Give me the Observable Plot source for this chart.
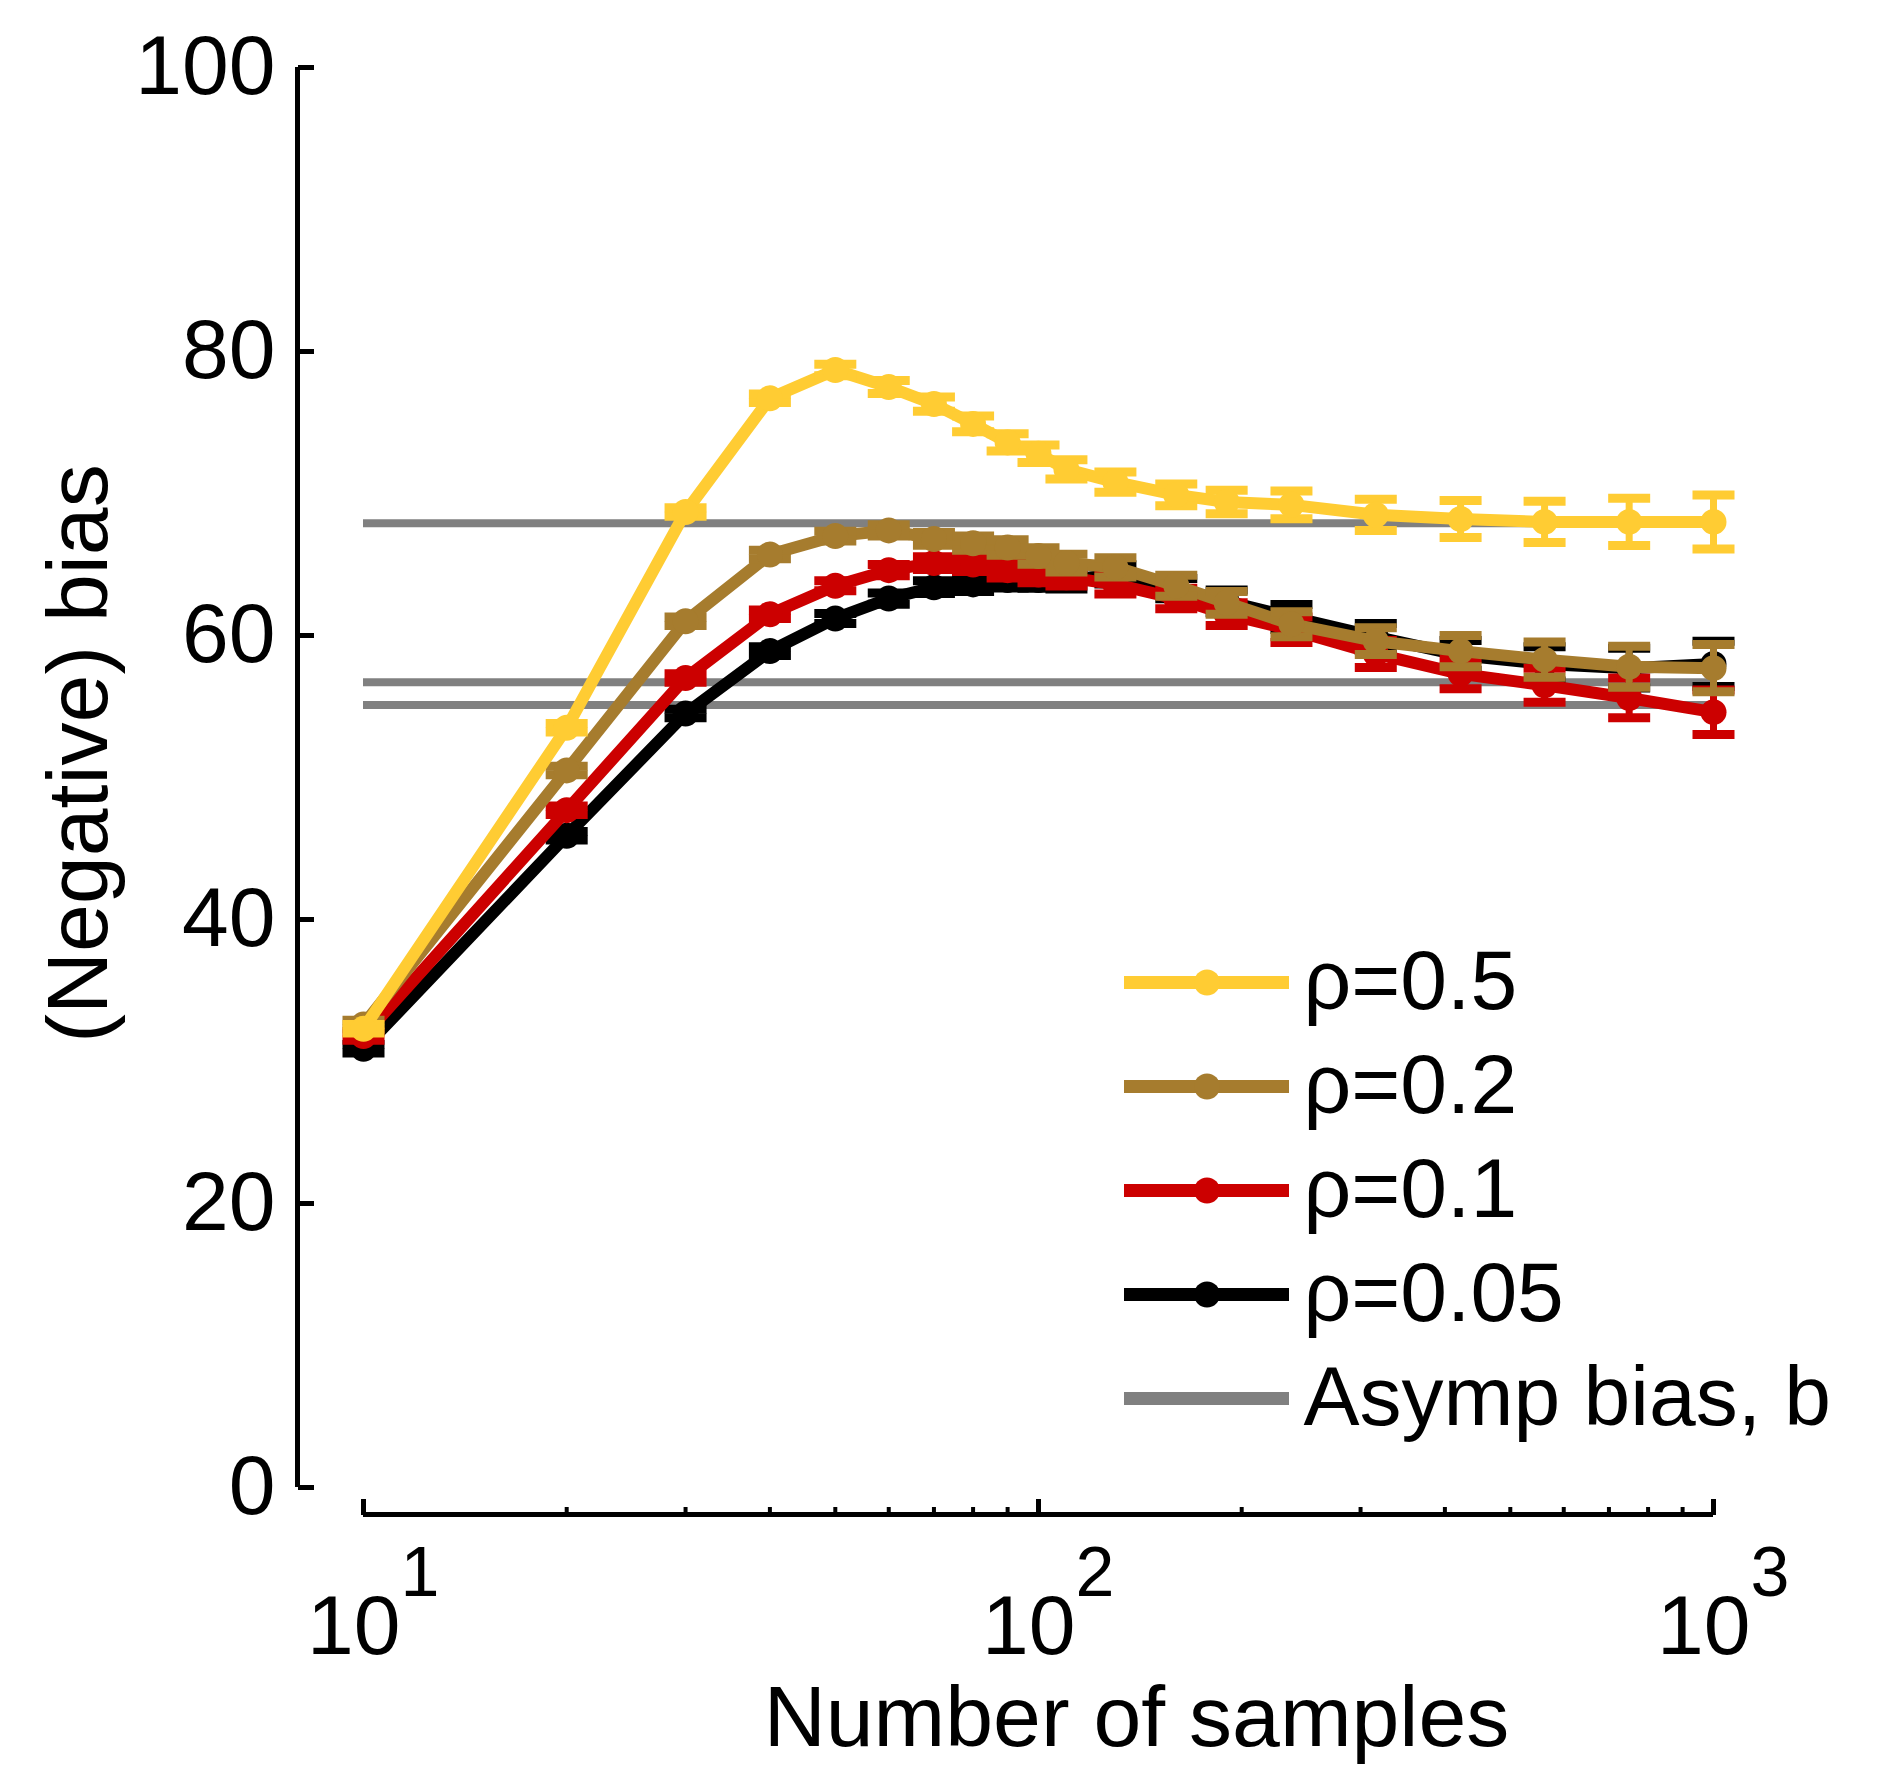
<!DOCTYPE html>
<html>
<head>
<meta charset="utf-8">
<script src="https://cdn.jsdelivr.net/npm/d3@7"></script>
<script src="https://cdn.jsdelivr.net/npm/@observablehq/plot@0.6"></script>
<style>
  html, body { margin: 0; padding: 0; background: white; }
  #wrap { position: relative; width: 1882px; height: 1790px; font-family: "Liberation Sans", Arial, sans-serif; }
  #legend { position: absolute; left: 1100px; top: 900px; }
</style>
</head>
<body>
<div id="wrap"><div id="main"></div><div id="legend"></div></div>
<script>
// ---- data ----
const samples = [10, 20, 30, 40, 50, 60, 70, 80, 90, 100, 110, 130, 160, 190, 237, 316, 422, 562, 750, 1000];

const rho05 = [32.3, 53.5, 68.7, 76.7, 78.7, 77.5, 76.3, 74.9, 73.6, 72.8, 71.7, 70.8, 69.9, 69.4, 69.2, 68.5, 68.2, 68.0, 68.0, 68.0];
const rho05Err = [0.3, 0.3, 0.3, 0.3, 0.4, 0.45, 0.5, 0.55, 0.6, 0.62, 0.68, 0.72, 0.77, 0.83, 0.97, 1.1, 1.3, 1.45, 1.67, 1.9];

const rho02 = [32.6, 50.5, 61.0, 65.7, 67.0, 67.4, 66.8, 66.5, 66.2, 65.6, 65.1, 64.8, 63.5, 62.3, 60.8, 59.6, 58.9, 58.3, 57.8, 57.7];
const rho02Err = [0.3, 0.3, 0.3, 0.3, 0.35, 0.4, 0.45, 0.5, 0.55, 0.58, 0.62, 0.68, 0.74, 0.8, 0.88, 0.94, 1.1, 1.24, 1.44, 1.67];

const rho01 = [31.8, 47.7, 57.0, 61.5, 63.5, 64.6, 65.1, 65.0, 64.6, 64.3, 64.1, 63.6, 62.6, 61.5, 60.4, 58.7, 57.3, 56.5, 55.6, 54.6];
const rho01Err = [0.3, 0.3, 0.3, 0.3, 0.35, 0.4, 0.45, 0.5, 0.55, 0.58, 0.62, 0.68, 0.72, 0.8, 0.9, 0.95, 1.05, 1.2, 1.4, 1.57];

const rho005 = [30.9, 45.9, 54.5, 58.9, 61.2, 62.6, 63.4, 63.6, 63.9, 63.9, 63.9, 64.3, 63.3, 62.4, 61.3, 59.9, 58.6, 58.0, 57.7, 58.0];
const rho005Err = [0.3, 0.3, 0.3, 0.3, 0.35, 0.4, 0.45, 0.5, 0.55, 0.58, 0.62, 0.68, 0.72, 0.8, 0.88, 0.95, 1.05, 1.2, 1.4, 1.6];

const asympBias = [67.9, 56.7, 55.1];

const seriesNames = ["ρ=0.5", "ρ=0.2", "ρ=0.1", "ρ=0.05"];
const seriesColors = ["#FFCC33", "#A67C2E", "#CC0000", "#000000"];
const asympLabel = "Asymp bias, b";
const asympColor = "#808080";

const yTicks = [0, 20, 40, 60, 80, 100];
const xMajor = [10, 100, 1000];
const xMinor = [20, 30, 40, 50, 60, 70, 80, 90, 200, 300, 400, 500, 600, 700, 800, 900];
const xLabel = "Number of samples";
const yLabel = "(Negative) bias";

// ---- build tables ----
const seriesValues = [rho05, rho02, rho01, rho005];
const seriesErrs = [rho05Err, rho02Err, rho01Err, rho005Err];
const series = seriesNames.map((name, i) => ({
  name, color: seriesColors[i],
  rows: samples.map((n, j) => ({n, v: seriesValues[i][j], e: seriesErrs[i][j]}))
}));

const capSymbol = {
  draw(context, size) {
    const r = Math.sqrt(size / Math.PI);
    context.moveTo(-r, 0);
    context.lineTo(r, 0);
  }
};

const font = "'Liberation Sans', Arial, sans-serif";

const seriesMarks = [];
for (const s of series.slice().reverse()) {
  seriesMarks.push(
    Plot.line(s.rows, {x: "n", y: "v", stroke: s.color, strokeWidth: 12, strokeLinejoin: "round"}),
    Plot.ruleX(s.rows, {x: "n", y1: d => d.v - d.e, y2: d => d.v + d.e, stroke: s.color, strokeWidth: 7}),
    Plot.dot(s.rows, {x: "n", y: d => d.v - d.e, symbol: capSymbol, r: 21, fill: "none", stroke: s.color, strokeWidth: 9}),
    Plot.dot(s.rows, {x: "n", y: d => d.v + d.e, symbol: capSymbol, r: 21, fill: "none", stroke: s.color, strokeWidth: 9}),
    Plot.dot(s.rows, {x: "n", y: "v", r: 13, fill: s.color, stroke: "none"})
  );
}

const chart = Plot.plot({
  width: 1882,
  height: 1790,
  marginLeft: 363,
  marginRight: 169,
  marginTop: 67,
  marginBottom: 303,
  style: {fontFamily: font, background: "white", color: "black"},
  x: {type: "log", domain: [10, 1000]},
  y: {domain: [0, 100]},
  marks: [
    Plot.ruleY(asympBias, {y: d => d, x1: 10, x2: 1000, stroke: asympColor, strokeWidth: 8}),
    ...seriesMarks,
    // axis lines (offset like the reference)
    Plot.ruleX([10], {x: d => d, y1: 0, y2: 100, dx: -66, stroke: "black", strokeWidth: 5}),
    Plot.ruleY([0], {y: d => d, x1: 10, x2: 1000, dy: 27, stroke: "black", strokeWidth: 5}),
    // inward ticks
    Plot.axisY(yTicks, {anchor: "right", tickSize: 16, strokeWidth: 5, dx: -1416, tickFormat: () => "", label: null}),
    Plot.axisX(xMajor, {anchor: "top", tickSize: 16, strokeWidth: 5, dy: 1447, tickFormat: () => "", label: null}),
    Plot.axisX(xMinor, {anchor: "top", tickSize: 8, strokeWidth: 4, dy: 1447, tickFormat: () => "", label: null}),
    // tick labels
    Plot.text(yTicks, {y: d => d, text: d => String(d), frameAnchor: "left", textAnchor: "end", lineAnchor: "middle", dx: -88, fontSize: 84, fill: "black"}),
    Plot.text(xMajor, {x: d => d, text: () => "10", frameAnchor: "bottom", textAnchor: "end", lineAnchor: "bottom", dx: 37, dy: 166, fontSize: 84, fill: "black"}),
    Plot.text(xMajor, {x: d => d, text: d => String(Math.round(Math.log10(d))), frameAnchor: "bottom", textAnchor: "start", lineAnchor: "bottom", dx: 37, dy: 108, fontSize: 70, fill: "black"}),
    // axis titles
    Plot.text([xLabel], {text: d => d, frameAnchor: "bottom", lineAnchor: "bottom", textAnchor: "middle", dx: 98, dy: 258, fontSize: 86, fill: "black"}),
    Plot.text([yLabel], {text: d => d, frameAnchor: "left", rotate: -90, lineAnchor: "bottom", textAnchor: "middle", dx: -257, dy: -24, fontSize: 86, fill: "black"})
  ]
});
document.getElementById("main").appendChild(chart);

// ---- legend ----
const legendEntries = seriesNames.map((name, i) => ({name, color: seriesColors[i], marker: true, w: 13}))
  .concat([{name: asympLabel, color: asympColor, marker: false, w: 13}]);

const legend = Plot.plot({
  width: 782,
  height: 600,
  marginLeft: 24,
  marginRight: 593,
  marginTop: 80,
  marginBottom: 101,
  style: {fontFamily: font, background: "transparent", color: "black", overflow: "visible"},
  x: {domain: [0, 1], axis: null},
  y: {type: "point", domain: legendEntries.map(d => d.name), padding: 0, axis: null},
  color: {type: "identity"},
  marks: [
    Plot.ruleY(legendEntries, {y: "name", x1: 0, x2: 1, stroke: "color", strokeWidth: "w"}),
    Plot.dot(legendEntries.filter(d => d.marker), {x: () => 0.5, y: "name", r: 13, fill: "color", stroke: "none"}),
    Plot.text(legendEntries, {x: () => 1, y: "name", text: "name", textAnchor: "start", lineAnchor: "middle", dx: 14, fontSize: 84, fill: "black"})
  ]
});
document.getElementById("legend").appendChild(legend);
</script>
</body>
</html>
